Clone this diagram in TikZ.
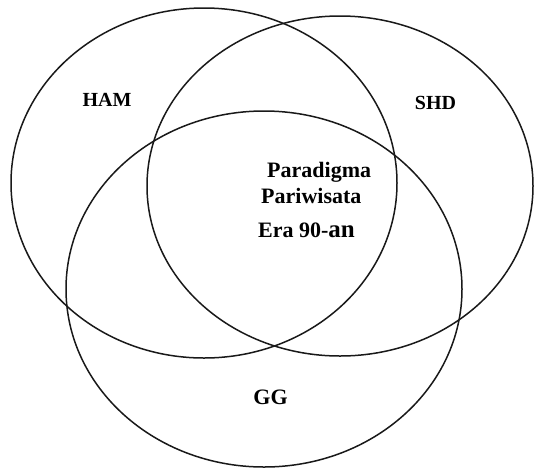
\documentclass[tikz,border=0pt]{standalone}
\usepackage{fontspec}
\setmainfont{Liberation Serif}

\begin{document}
\begin{tikzpicture}[
  x=1pt, y=-1pt,
  set/.style={line width=1.5pt, draw=black!90},
  lbl/.style={font=\fontsize{20}{22}\selectfont\bfseries, inner sep=0pt},
  mid/.style={font=\fontsize{22}{24}\selectfont\bfseries, anchor=base west, inner sep=0pt}
]
  \useasboundingbox (0,0) rectangle (535,467);

  \draw[set] (204,183) ellipse [x radius=193, y radius=175];
  \draw[set] (340,186) ellipse [x radius=193, y radius=170];
  \draw[set] (264,289) ellipse [x radius=198, y radius=178];

  \node[lbl] (HAM) at (107,99.5) {HAM};
  \node[lbl] (SHD) at (435.5,102.5) {SHD};
  \node[lbl, font=\fontsize{22}{24}\selectfont\bfseries] (GG) at (270.5,397) {GG};

  \node[mid] (para) at (267,177) {Paradigma};
  \node[mid] (pari) at (261,203) {Pariwisata};
  \node[mid] (era) at (258,237) {Era 90-{\fontsize{25}{26}\selectfont an}};
\end{tikzpicture}
\end{document}
